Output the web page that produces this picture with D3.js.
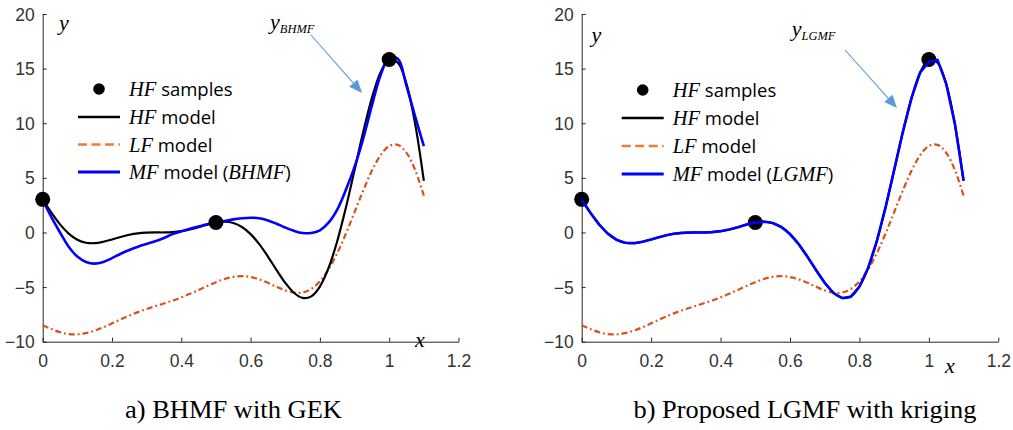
<!DOCTYPE html>
<html>
<head>
<meta charset="utf-8">
<script src="https://cdn.jsdelivr.net/npm/d3@7"></script>
<style>
  html, body { margin: 0; padding: 0; background: #fff; }
  svg { display: block; }
  .tick text { font-family: "Liberation Sans", Arial, sans-serif; font-size: 17.5px; fill: #333; }
  .math { font-family: "Liberation Serif", "Times New Roman", serif; font-style: italic; }
  .sans { font-family: "Open Sans", "Noto Sans", sans-serif; }
</style>
</head>
<body>
<svg id="fig" width="1013" height="430"></svg>
<script>
// Sample locations along x
const xGrid = [0, 0.025, 0.05, 0.075, 0.1, 0.125, 0.15, 0.175, 0.2, 0.225, 0.25, 0.275, 0.3, 0.325,
  0.35, 0.375, 0.4, 0.425, 0.45, 0.475, 0.5, 0.525, 0.55, 0.575, 0.6, 0.625, 0.65, 0.675, 0.7,
  0.725, 0.75, 0.775, 0.8, 0.825, 0.85, 0.875, 0.9, 0.925, 0.95, 0.975, 1.0, 1.025, 1.05, 1.075, 1.1];

// High-fidelity model
const hfModel = [3.03, 1.81, 0.74, -0.10, -0.66, -0.94, -0.98, -0.85, -0.64, -0.41, -0.21, -0.08, -0.02, 0.00,
  0.00, 0.03, 0.12, 0.27, 0.48, 0.72, 0.91, 0.99, 0.87, 0.50, -0.15, -1.07, -2.21, -3.44, -4.61,
  -5.52, -5.99, -5.85, -4.95, -3.25, -0.80, 2.27, 5.71, 9.19, 12.30, 14.65, 15.83, 15.54, 13.58, 9.92, 4.72];

// Low-fidelity model
const lfModel = [-8.49, -8.84, -9.13, -9.30, -9.33, -9.22, -8.99, -8.68, -8.32, -7.95, -7.61, -7.29, -7.01, -6.75,
  -6.50, -6.24, -5.94, -5.62, -5.26, -4.89, -4.55, -4.26, -4.06, -4.00, -4.08, -4.29, -4.61, -4.97, -5.30,
  -5.51, -5.50, -5.17, -4.48, -3.38, -1.90, -0.11, 1.86, 3.84, 5.65, 7.07, 7.92, 8.02, 7.29, 5.71, 3.36];

// Multi-fidelity model, BHMF with GEK
const bhmfModel = [3.0, 1.4, 0.0, -1.3, -2.2, -2.7, -2.85, -2.7, -2.35, -1.95, -1.6, -1.3, -1.05, -0.8,
  -0.5, -0.15, 0.1, 0.35, 0.55, 0.75, 0.9, 1.05, 1.2, 1.3, 1.35, 1.3, 1.1, 0.8, 0.45,
  0.15, -0.05, -0.05, 0.2, 0.9, 2.1, 3.9, 6.0, 8.6, 11.6, 14.4, 16.0, 15.9, 13.4, 10.6, 7.9];

// Multi-fidelity model, proposed LGMF with kriging
const lgmfModel = [3.0, 1.8, 0.74, -0.1, -0.66, -0.94, -0.98, -0.85, -0.64, -0.41, -0.21, -0.08, -0.02, 0.0,
  0.0, 0.03, 0.12, 0.27, 0.48, 0.72, 0.9, 0.98, 0.87, 0.5, -0.15, -1.07, -2.21, -3.44, -4.61,
  -5.52, -6.0, -5.9, -4.95, -3.25, -0.8, 2.27, 5.71, 9.19, 12.3, 14.65, 15.6, 15.8, 13.6, 9.92, 4.75];

// High-fidelity sample points
const hfSampleX = [0, 0.5, 1.0];
const hfSampleY = [3.03, 0.91, 15.83];

const xTicks = [0, 0.2, 0.4, 0.6, 0.8, 1, 1.2];
const yTicks = [-10, -5, 0, 5, 10, 15, 20];

const panelTitles = ["a) BHMF with GEK", "b) Proposed LGMF with kriging"];
const mfNames = ["BHMF", "LGMF"];

const svg = d3.select("#fig");
svg.append("rect").attr("width", 1013).attr("height", 430).attr("fill", "#fff");

const C_HF = "#000000", C_LF = "#D95319", C_LF_LEG = "#ED7D31", C_MF = "#0000FF", C_ARROW = "#5B9BD5";

const panels = [
  { left: 42.7, right: 458.5, mf: bhmfModel, mfCurve: d3.curveCatmullRom, dotsOnTop: true,
    legX: 78, legTextX: 129, legY: [89, 117, 144.5, 172],
    ylab: [59, 30], xlab: [415, 346.5],
    ann: { tx: 270, ty: 29, from: [311, 35], to: [362, 93] },
    title: { cx: 233.5, y: 418, w: 217 } },
  { left: 581.7, right: 998.3, mf: lgmfModel, mfCurve: d3.curveLinear, dotsOnTop: false,
    legX: 621.7, legTextX: 672.7, legY: [90, 118, 146, 174],
    ylab: [591.5, 42], xlab: [945, 373],
    ann: { tx: 791.7, ty: 36, from: [845, 50], to: [897, 108] },
    title: { cx: 805, y: 418, w: 343 } }
];

const yScale = d3.scaleLinear().domain([-10, 20]).range([341.7, 14]);

panels.forEach((p, i) => {
  const x = d3.scaleLinear().domain([0, 1.2]).range([p.left, p.right]);
  const g = svg.append("g");

  // axes (MATLAB-like: inward ticks, no box)
  const xa = g.append("g").attr("transform", `translate(0,${yScale(-10)})`)
    .call(d3.axisBottom(x).tickValues(xTicks).tickFormat(d3.format("~g"))
      .tickSizeInner(-4).tickSizeOuter(0).tickPadding(13));
  const ya = g.append("g").attr("transform", `translate(${p.left},0)`)
    .call(d3.axisLeft(yScale).tickValues(yTicks).tickFormat(d3.format("d"))
      .tickSizeInner(-4).tickSizeOuter(0).tickPadding(8));
  [xa, ya].forEach(a => {
    a.select(".domain").attr("stroke", "#262626").attr("stroke-width", 1);
    a.selectAll(".tick line").attr("stroke", "#262626");
  });
  ya.selectAll(".tick text").attr("dy", "0.35em");

  const pts = arr => xGrid.map((xv, k) => [xv, arr[k]]);
  const lineSmooth = d3.line().x(d => x(d[0])).y(d => yScale(d[1])).curve(d3.curveCatmullRom);
  const lineMF = d3.line().x(d => x(d[0])).y(d => yScale(d[1])).curve(p.mfCurve);

  const drawDots = () => g.append("g").selectAll("circle")
    .data(hfSampleX.map((xv, k) => [xv, hfSampleY[k]])).join("circle")
    .attr("cx", d => x(d[0])).attr("cy", d => yScale(d[1])).attr("r", 7.5).attr("fill", "#000");

  if (!p.dotsOnTop) drawDots();

  // LF model (dash-dot)
  g.append("path").attr("d", lineSmooth(pts(lfModel))).attr("fill", "none")
    .attr("stroke", C_LF).attr("stroke-width", 2.2).attr("stroke-dasharray", "6,3,1.8,3");
  // HF model
  g.append("path").attr("d", lineSmooth(pts(hfModel))).attr("fill", "none")
    .attr("stroke", C_HF).attr("stroke-width", 2.2);
  // MF model
  g.append("path").attr("d", lineMF(pts(p.mf))).attr("fill", "none")
    .attr("stroke", C_MF).attr("stroke-width", 2.6).attr("stroke-linejoin", "round");

  if (p.dotsOnTop) drawDots();

  // axis letters
  g.append("text").attr("class", "math").attr("x", p.ylab[0]).attr("y", p.ylab[1])
    .attr("font-size", 22).attr("fill", "#000").text("y");
  g.append("text").attr("class", "math").attr("x", p.xlab[0]).attr("y", p.xlab[1])
    .attr("font-size", 22).attr("fill", "#000").text("x");

  // annotation with arrow
  const at = g.append("text").attr("class", "math").attr("x", p.ann.tx).attr("y", p.ann.ty)
    .attr("fill", "#000");
  at.append("tspan").attr("font-size", 22).text("y");
  at.append("tspan").attr("font-size", 12.5).attr("dy", 3.5).text(mfNames[i]);
  const [ax0, ay0] = p.ann.from, [ax1, ay1] = p.ann.to;
  const ang = Math.atan2(ay1 - ay0, ax1 - ax0);
  const hl = 13, hw = 5.5;
  const bx = ax1 - hl * Math.cos(ang), by = ay1 - hl * Math.sin(ang);
  g.append("line").attr("x1", ax0).attr("y1", ay0).attr("x2", bx).attr("y2", by)
    .attr("stroke", C_ARROW).attr("stroke-width", 1.1);
  g.append("path").attr("fill", C_ARROW).attr("d",
    `M${ax1},${ay1}L${bx + hw * Math.sin(ang)},${by - hw * Math.cos(ang)}` +
    `L${bx - hw * Math.sin(ang)},${by + hw * Math.cos(ang)}Z`);

  // legend
  const leg = g.append("g");
  const lx0 = p.legX, lx1 = p.legX + 42;
  leg.append("circle").attr("cx", (lx0 + lx1) / 2).attr("cy", p.legY[0]).attr("r", 5.8).attr("fill", "#000");
  leg.append("line").attr("x1", lx0).attr("x2", lx1).attr("y1", p.legY[1]).attr("y2", p.legY[1])
    .attr("stroke", C_HF).attr("stroke-width", 2.6);
  leg.append("line").attr("x1", lx0).attr("x2", lx1).attr("y1", p.legY[2]).attr("y2", p.legY[2])
    .attr("stroke", C_LF_LEG).attr("stroke-width", 2.6).attr("stroke-dasharray", "9,4.5");
  leg.append("line").attr("x1", lx0).attr("x2", lx1).attr("y1", p.legY[3]).attr("y2", p.legY[3])
    .attr("stroke", C_MF).attr("stroke-width", 2.8);

  const legItems = [
    [["HF", true], [" samples", false]],
    [["HF", true], [" model", false]],
    [["LF", true], [" model", false]],
    [["MF", true], [" model (", false], [mfNames[i], true], [")", false]]
  ];
  legItems.forEach((parts, k) => {
    const t = leg.append("text").attr("x", p.legTextX).attr("y", p.legY[k] + 7).attr("fill", "#000");
    parts.forEach(([s, m]) => {
      t.append("tspan").attr("class", m ? "math" : "sans").attr("font-size", m ? 20.5 : 18.5).text(s);
    });
  });

  // panel caption
  svg.append("text").attr("x", p.title.cx).attr("y", p.title.y).attr("text-anchor", "middle")
    .attr("font-family", "'Liberation Serif', 'Times New Roman', serif").attr("font-size", 24.5)
    .attr("fill", "#000").attr("textLength", p.title.w).attr("lengthAdjust", "spacingAndGlyphs")
    .text(panelTitles[i]);
});
</script>
</body>
</html>
